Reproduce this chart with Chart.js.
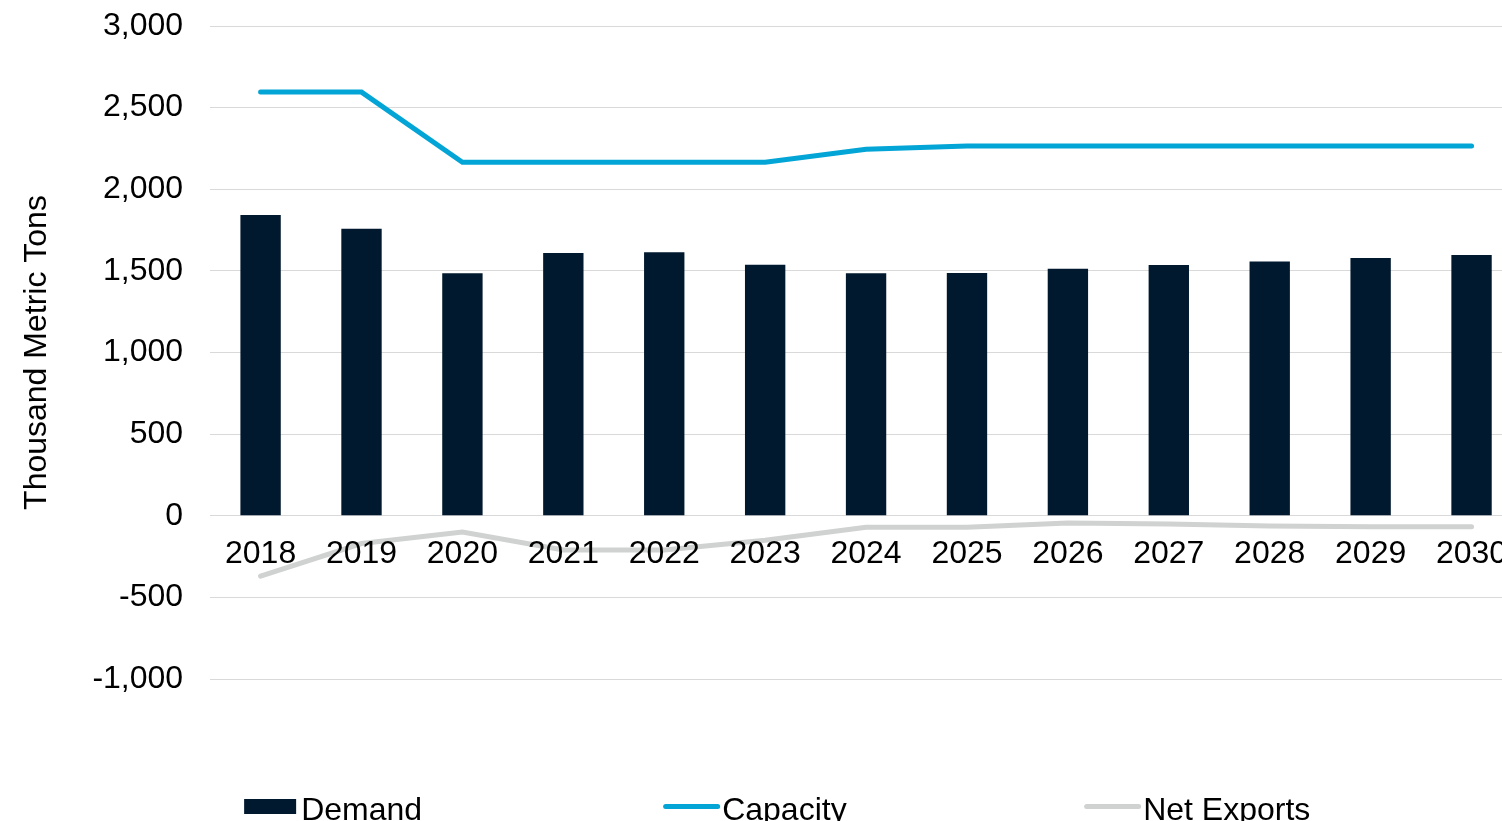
<!DOCTYPE html>
<html>
<head>
<meta charset="utf-8">
<title>Demand, Capacity and Net Exports</title>
<script src="https://cdn.jsdelivr.net/npm/chart.js@4/dist/chart.umd.min.js"></script>
<style>
    html, body { margin: 0; padding: 0; background: #fff; overflow: hidden; }
    .chart-wrap { width: 1530px; height: 821px; }
</style>
</head>
<body>
<div class="chart-wrap"><canvas class="js-chart" width="1530" height="821"></canvas></div>
<script>
const years = ['2018', '2019', '2020', '2021', '2022', '2023', '2024', '2025', '2026', '2027', '2028', '2029', '2030'];
const demand = [1842, 1758, 1485, 1610, 1614, 1538, 1485, 1487, 1513, 1536, 1558, 1579, 1597];
const capacity = [2595, 2595, 2165, 2165, 2165, 2165, 2245, 2265, 2265, 2265, 2265, 2265, 2265];
const netExports = [-370, -170, -100, -210, -210, -150, -70, -70, -45, -50, -63, -67, -67];
const yTicks = { min: -1000, max: 3000, step: 500 };

const FONT = '"Liberation Sans", Arial, sans-serif';
const ctx = document.querySelector('.js-chart').getContext('2d');

// legend spread out in equal slots under the plot, like the office-style legend
const slotLegend = {
    id: 'slotLegend',
    afterDraw(chart) {
        const c = chart.ctx;
        const left = chart.chartArea.left + 34;
        const step = 421;
        const midY = chart.height - 14.5;
        const baseY = chart.height - 1;
        c.save();
        c.font = '32px ' + FONT;
        c.fillStyle = '#000';
        c.textBaseline = 'alphabetic';
        chart.data.datasets.forEach((ds, i) => {
            const x = left + i * step;
            if (ds.type === 'bar') {
                c.fillStyle = ds.backgroundColor;
                c.fillRect(x, midY - 7.5, 52, 15);
                c.fillStyle = '#000';
                c.fillText(ds.label, x + 57, baseY);
            } else {
                c.strokeStyle = ds.borderColor;
                c.lineWidth = 5;
                c.lineCap = 'round';
                c.beginPath();
                c.moveTo(x + 0.5, midY);
                c.lineTo(x + 52.5, midY);
                c.stroke();
                c.fillStyle = '#000';
                c.fillText(ds.label, x + 57, baseY);
            }
        });
        c.restore();
    }
};

new Chart(ctx, {
    data: {
        labels: years,
        datasets: [{
            type: 'bar',
            label: 'Demand',
            data: demand,
            backgroundColor: '#01192E',
            barPercentage: 0.4,
            categoryPercentage: 1,
            order: 1
        },
        {
            type: 'line',
            label: 'Capacity',
            data: capacity,
            borderColor: '#03A5D6',
            borderWidth: 5,
            borderCapStyle: 'round',
            pointRadius: 0,
            order: 0
        },
        {
            type: 'line',
            label: 'Net Exports',
            data: netExports,
            borderColor: '#D0D1D1',
            borderWidth: 5,
            borderCapStyle: 'round',
            pointRadius: 0,
            order: 0
        }]
    },
    options: {
        responsive: false,
        devicePixelRatio: 1,
        animation: false,
        layout: { padding: { top: 26, right: 8, bottom: 142, left: 0 } },
        plugins: {
            legend: { display: false },
            tooltip: { enabled: false }
        },
        scales: {
            x: {
                position: { y: 0 },
                grid: { display: false },
                border: { display: false },
                ticks: {
                    z: 1, // year labels sit on top of the net exports line
                    color: '#000',
                    padding: 11,
                    maxRotation: 0,
                    autoSkip: false,
                    font: { family: FONT, size: 32 }
                }
            },
            y: {
                min: yTicks.min,
                max: yTicks.max,
                // invisible tick marks keep the labels clear of the plot
                grid: { color: '#D9D9D9', lineWidth: 1, drawTicks: true, tickLength: 21, tickColor: 'rgba(0,0,0,0)' },
                border: { display: false },
                ticks: {
                    stepSize: yTicks.step,
                    color: '#000',
                    padding: 6,
                    font: { family: FONT, size: 32 },
                    callback(value) {
                        return value.toLocaleString('en-US');
                    }
                },
                title: {
                    display: true,
                    text: 'Thousand Metric Tons',
                    color: '#000',
                    padding: { top: 18, bottom: 30 },
                    font: { family: FONT, size: 32 }
                }
            }
        }
    },
    plugins: [slotLegend]
});
</script>
</body>
</html>
